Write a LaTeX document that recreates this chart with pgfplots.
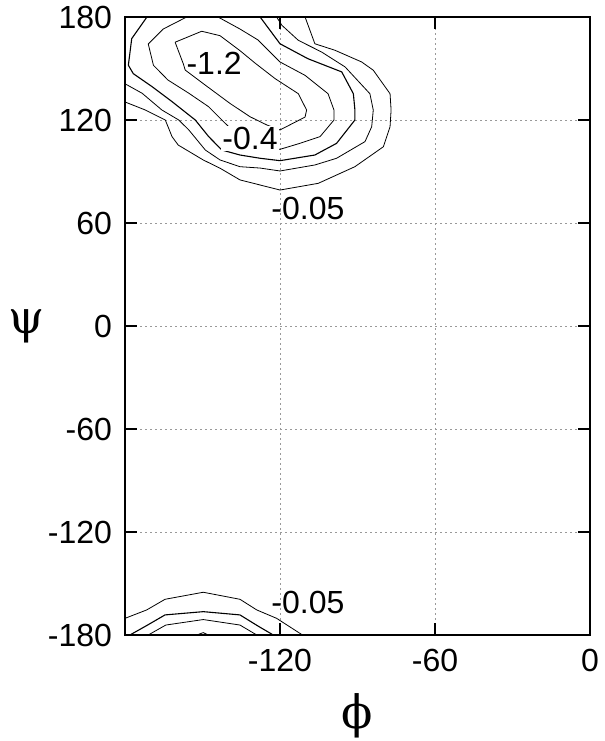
\documentclass[border=0pt]{standalone}
\usepackage{fontspec}
\setmainfont{Liberation Sans}
\newfontfamily\greekfont{DejaVu Serif}
\usepackage{pgfplots}
\pgfplotsset{compat=1.18}
\usetikzlibrary{calc}

\begin{document}
\begin{tikzpicture}
\begin{axis}[
  scale only axis, width=232.5pt, height=309pt,
  xmin=-180, xmax=0, ymin=-180, ymax=180,
  xtick={-120,-60,0}, ytick={-180,-120,...,180},
  tick align=inside, major tick length=6pt,
  grid=major,
  grid style={gray!80, line width=0.4pt, dash pattern=on 1pt off 1.5pt},
  axis line style={line width=1pt},
  tick style={black, line width=0.8pt},
  /pgf/number format/assume math mode=true,
  ticklabel style={font=\fontsize{16}{18}\selectfont},
  xticklabel style={yshift=-3.5pt},
  yticklabel style={xshift=-3pt},
  xlabel={\greekfont ϕ}, ylabel={\greekfont ψ},
  label style={font=\fontsize{23}{25}\selectfont},
  xlabel style={at={(axis description cs:0.5,-0.131)}, anchor=center},
  ylabel style={rotate=-90, at={(axis description cs:-0.211,0.5)}, anchor=center},
  cycle list={{black, solid, line width=0.55pt, mark=none}},
]
% top region contours
\addplot coordinates {(-160.6,165.3) (-150.3,171.7) (-143.2,169.1) (-135.5,160.4) (-129.7,153.2)
  (-121.9,144.1) (-112.9,135.3) (-109.7,125.8) (-110.3,121.7) (-120,114.2) (-125.1,117.1)
  (-131.6,121.9) (-139.4,129.7) (-149.0,140.4) (-156.7,149.1) (-157.4,152.6) (-160.6,165.3)};
\addplot coordinates {(-156.1,180) (-165.2,173.0) (-171.0,164.3) (-169.0,151.9) (-163.4,143.3)
  (-155.3,135.6) (-147.6,127.7) (-142.5,120.0) (-138.6,114.2) (-129.7,106.4) (-120,102.9)
  (-112.3,106.4) (-104.5,110.3) (-99.1,120) (-99.1,125.8) (-101.4,135.3) (-110.3,146.0)
  (-120,153.8) (-128.5,166.6) (-135.5,173.0) (-144.0,180)};
\addplot coordinates {(-171.5,180) (-177.4,167.4) (-178.7,151.9) (-176.8,147.0) (-169.5,139.4)
  (-161.8,130.7) (-152.8,120) (-147.6,110.3) (-142.5,102.5) (-135.5,99.6) (-127.7,97.7)
  (-120,96.3) (-106.5,99.6) (-98.1,106.4) (-91.0,120) (-91.0,125.8) (-91.6,135.3)
  (-96.1,148.0) (-109.2,155.7) (-120,164.4) (-127.7,180)};
\addplot coordinates {(-180,141.1) (-173.4,135.6) (-165.7,125.8) (-159.2,120) (-155.3,114.2)
  (-148.9,102.5) (-143.2,96.7) (-135.5,92.8) (-127.7,92.0) (-120,90.3) (-106.5,93.8)
  (-98.1,97.7) (-87.1,107.4) (-84.5,116.1) (-83.9,125.8) (-85.2,135.3) (-94.8,150.9)
  (-103.9,159.6) (-112.9,166.4) (-119.3,175.2) (-121.3,180)};
\addplot coordinates {(-180,130.5) (-172.1,125.8) (-164.4,120) (-161.8,110.3) (-159.4,105.4)
  (-149.7,96.7) (-143.2,91.9) (-135.5,85.1) (-120,79.2) (-105.2,83.1) (-91.0,92.8)
  (-80.0,104.4) (-77.4,116.1) (-77.0,125.8) (-77.4,135.3) (-83.9,149.0) (-88.4,153.8)
  (-98.7,160.6) (-106.5,164.4) (-110.3,180)};
% bottom region contours
\addplot coordinates {(-180,-170.3) (-171.6,-165.4) (-164.5,-159.2) (-149.7,-155.1) (-135.5,-159.2)
  (-129.0,-165.4) (-121.3,-170.3) (-111.3,-180)};
\addplot coordinates {(-178.1,-180) (-171.6,-174.5) (-164.5,-168.3) (-149.7,-166.4) (-135.5,-168.3)
  (-128.5,-174.8) (-122.6,-180)};
\addplot coordinates {(-171.0,-180) (-164.2,-174.2) (-149.7,-171.0) (-135.5,-174.2) (-129.0,-180)};
\addplot coordinates {(-152.2,-180) (-149.7,-178.6) (-147.8,-180)};
% contour labels
\node[font=\fontsize{16}{18}\selectfont] at (axis cs:-145.5,153.2) {-1.2};
\node[font=\fontsize{16}{18}\selectfont, fill=white, inner sep=0.5pt] at (axis cs:-131.6,109.2) {-0.4};
\node[font=\fontsize{16}{18}\selectfont] at (axis cs:-109.2,68.7) {-0.05};
\node[font=\fontsize{16}{18}\selectfont] at (axis cs:-109.2,-161.3) {-0.05};
\end{axis}
\pgfresetboundingbox
\path[use as bounding box] ($(current axis.south west)+(-62.5pt,-53pt)$) rectangle ($(current axis.north east)+(7pt,8.5pt)$);
\end{tikzpicture}
\end{document}
